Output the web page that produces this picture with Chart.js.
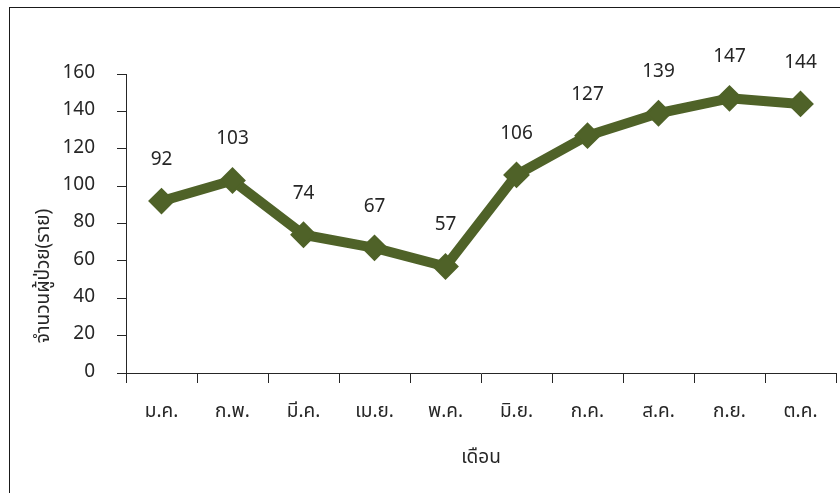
<!DOCTYPE html>
<html>
<head>
<meta charset="utf-8">
<script src="https://cdn.jsdelivr.net/npm/chart.js@4.4.0/dist/chart.umd.min.js"></script>
<style>
    body { margin: 0; background: #fff; }
    #wrap { position: relative; width: 840px; height: 493px; overflow: hidden; }
    #frame { position: absolute; left: 9px; top: 7px; width: 1000px; height: 1000px;
             border-top: 1px solid #1a1a1a; border-left: 1px solid #1a1a1a; pointer-events: none; }
</style>
</head>
<body>
<div id="wrap">
    <canvas id="grafico" width="840" height="493"></canvas>
    <div id="frame"></div>
</div>
<script>
const meses = ['ม.ค.', 'ก.พ.', 'มี.ค.', 'เม.ย.', 'พ.ค.', 'มิ.ย.', 'ก.ค.', 'ส.ค.', 'ก.ย.', 'ต.ค.'];
const pacientes = [92, 103, 74, 67, 57, 106, 127, 139, 147, 144];
const tituloY = 'จำนวนผู้ป่วย(ราย)';
const tituloX = 'เดือน';

const fuente = "Tahoma, 'Noto Sans Thai', 'DejaVu Sans', sans-serif";
const colorLinea = '#4F6228';
const colorTexto = '#262626';
const colorEje = '#262626';

// Etiquetas de valor encima de cada punto
const etiquetasPlugin = {
    id: 'etiquetas',
    afterDatasetsDraw(chart) {
        const ctx = chart.ctx;
        const meta = chart.getDatasetMeta(0);
        ctx.save();
        ctx.font = '19px ' + fuente;
        ctx.fillStyle = colorTexto;
        ctx.textAlign = 'center';
        ctx.textBaseline = 'middle';
        meta.data.forEach((pt, i) => {
            ctx.fillText(String(pacientes[i]), pt.x, pt.y - 40);
        });
        ctx.restore();
    }
};

// Títulos de los ejes (el del eje Y no está centrado en el original)
const titulosPlugin = {
    id: 'titulos',
    afterDraw(chart) {
        const ctx = chart.ctx;
        const area = chart.chartArea;
        ctx.save();
        ctx.font = '19px ' + fuente;
        ctx.fillStyle = colorTexto;
        ctx.textAlign = 'center';
        ctx.textBaseline = 'middle';
        ctx.fillText(tituloX, (area.left + area.right) / 2, area.bottom + 86);
        ctx.translate(area.left - 81, area.bottom - 97);
        ctx.rotate(-Math.PI / 2);
        ctx.fillText(tituloY, 0, 0);
        ctx.restore();
    }
};

new Chart(document.getElementById('grafico').getContext('2d'), {
    type: 'line',
    data: {
        labels: meses,
        datasets: [{
            label: tituloY,
            data: pacientes,
            borderColor: colorLinea,
            backgroundColor: colorLinea,
            borderWidth: 10,
            borderJoinStyle: 'round',
            borderCapStyle: 'round',
            pointStyle: 'rectRot',
            pointRadius: 12,
            pointBorderWidth: 2,
            pointBackgroundColor: colorLinea,
            pointBorderColor: colorLinea,
            tension: 0
        }]
    },
    options: {
        responsive: false,
        animation: false,
        layout: { autoPadding: false, padding: { top: 74, left: 0, right: 4, bottom: 0 } },
        plugins: {
            legend: { display: false },
            tooltip: { enabled: false }
        },
        scales: {
            x: {
                offset: true,
                afterFit: (scale) => {
                    scale.height = 120;
                    scale.paddingLeft = 0;
                    scale.paddingRight = 0;
                },
                grid: { offset: true, drawOnChartArea: false, color: colorEje, tickLength: 10 },
                border: { color: colorEje },
                ticks: { color: colorTexto, font: { size: 19, family: fuente }, padding: 19 }
            },
            y: {
                min: 0,
                max: 160,
                afterFit: (scale) => { scale.width = 126; },
                grid: { drawOnChartArea: false, color: colorEje, tickLength: 9 },
                border: { color: colorEje },
                ticks: { stepSize: 20, color: colorTexto, font: { size: 19, family: fuente }, padding: 22 }
            }
        }
    },
    plugins: [etiquetasPlugin, titulosPlugin]
});
</script>
</body>
</html>
